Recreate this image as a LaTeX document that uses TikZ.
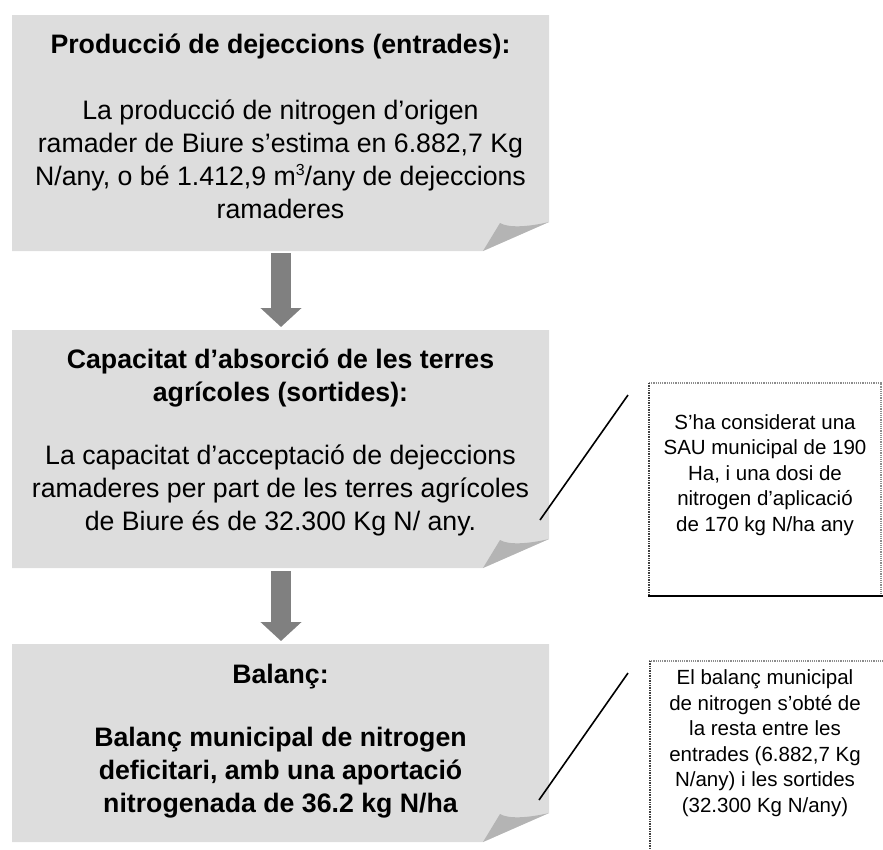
\documentclass[tikz,border=0pt]{standalone}
\usepackage{fontspec}
\setmainfont{Liberation Sans}
\usetikzlibrary{arrows.meta,positioning,calc}
\definecolor{paper}{HTML}{DDDDDD}
\definecolor{plec}{HTML}{B4B4B4}
\definecolor{fletxagris}{HTML}{808080}
\definecolor{vora}{HTML}{8C8C8C}

\begin{document}
\begin{tikzpicture}[x=1pt,y=-1pt,
  titol/.style={font=\fontsize{26.7}{33}\selectfont\bfseries,align=center,inner sep=0pt},
  cos/.style={font=\fontsize{26.7}{33}\selectfont,align=center,inner sep=0pt},
  nota/.style={font=\fontsize{20.5}{25.5}\selectfont,align=center,inner sep=0pt},
  fletxa/.style={draw=fletxagris,line width=20pt,-{Triangle[width=40pt,length=19pt]}},
  guia/.style={line width=1.6pt}]
  \useasboundingbox (0,0) rectangle (883,849);
  % fulla amb la punta doblegada
  \newcommand{\fulla}[3]{
    \fill[paper] (12,#2) -- (549,#2) -- (549,#3-29) -- (483,#3) -- (12,#3) -- cycle;
    \fill[plec] (483,#3) -- (500,#3-28) .. controls (508,#3-23) and (528,#3-24) .. (549,#3-29) -- cycle;
    \coordinate (#1-dalt) at (281,#2);
    \coordinate (#1-baix) at (281,#3);}
  \newcommand{\cub}{\raisebox{0.75ex}{\fontsize{16}{16}\selectfont 3}}
  \fulla{entrades}{15}{251}
  \fulla{sortides}{330}{568}
  \fulla{balanc}{644}{842}
  % textos
  \node[titol] (t1) at (280.5,46) {Producció de dejeccions (entrades):};
  \node[cos] (c1) at (280.5,159.5) {La producció de nitrogen d’origen\\ramader de Biure s’estima en 6.882,7 Kg\\N/any, o bé 1.412,9 m\cub/any de dejeccions\\ramaderes};
  \node[titol] (t2) at (280.5,378) {Capacitat d’absorció de les terres\\agrícoles (sortides):};
  \node[cos] (c2) at (280.5,490) {La capacitat d’acceptació de dejeccions\\ramaderes per part de les terres agrícoles\\de Biure és de 32.300 Kg N/ any.};
  \node[titol] (t3) at (280.5,677) {Balanç:};
  \node[titol] (c3) at (280.5,773) {Balanç municipal de nitrogen\\deficitari, amb una aportació\\nitrogenada de 36.2 kg N/ha};
  \draw[fletxa] ([yshift=-2pt]entrades-baix) -- ([yshift=3pt]sortides-dalt);
  \draw[fletxa] ([yshift=-3pt]sortides-baix) -- ([yshift=3pt]balanc-dalt);
  % notes al marge
  \draw[vora,densely dotted,line width=1.2pt] (649,383) -- (881,383) -- (881,595);
  \draw[black!75,dash pattern=on 1pt off 0.7pt,line width=2.2pt] (649,383) -- (649,595);
  \draw[line width=2.4pt] (648,596) -- (883,596);
  \node[nota] (n1) at (765,475) {S’ha considerat una\\SAU municipal de 190\\Ha, i una dosi de\\nitrogen d’aplicació\\de 170 kg N/ha any};
  \draw[vora,densely dotted,line width=1.2pt] (649,661) -- (883,661);
  \draw[black!75,dash pattern=on 1pt off 0.7pt,line width=2.2pt] (650,661) -- (650,849);
  \node[nota] (n2) at (765,743) {El balanç municipal\\de nitrogen s’obté de\\la resta entre les\\entrades (6.882,7 Kg\\N/any) i les sortides\\(32.300 Kg N/any)};
  \coordinate (g1a) at (628,395);
  \coordinate (g1b) at (540,520);
  \coordinate (g2a) at (628,673);
  \coordinate (g2b) at (539,800);
  \draw[guia] (g1a) -- (g1b);
  \draw[guia] (g2a) -- (g2b);
\end{tikzpicture}
\end{document}
